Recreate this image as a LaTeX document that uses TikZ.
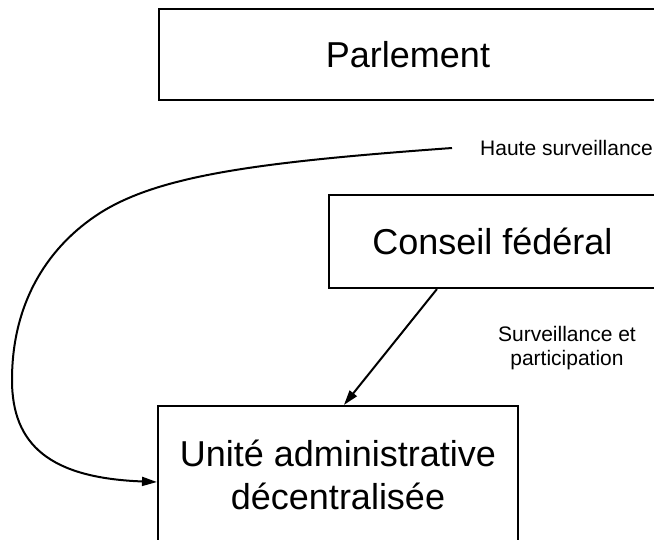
\documentclass[tikz,border=0pt]{standalone}
\usepackage{fontspec}
\setmainfont{Liberation Sans}
\usetikzlibrary{arrows.meta,calc}

\tikzset{
  orgbox/.style={draw=black, line width=2.1pt, rectangle, inner sep=0pt,
    font=\fontsize{36}{43}\selectfont, align=center},
  smalllabel/.style={inner sep=0pt, font=\fontsize{21}{24}\selectfont, align=center},
  link/.style={draw=black, line width=2pt,
    -{Triangle[length=15pt,width=9pt]}}
}

\begin{document}
\begin{tikzpicture}[x=1pt,y=-1pt]
  \useasboundingbox (0,0) rectangle (654,540);
  \clip (0,0) rectangle (654,540);

  % the three bodies
  \node[orgbox, minimum width=498pt, minimum height=91pt] (parl) at (408,54.5) {Parlement};
  \node[orgbox, minimum width=327pt, minimum height=93pt] (cons) at (492.5,241.5) {Conseil fédéral};
  \node[orgbox, minimum width=360pt, minimum height=137pt] (unit) at (338,474.5)
    {Unité administrative\\décentralisée};

  % labels of the two relations
  \node[smalllabel, anchor=west] (hs) at (480,148) {Haute surveillance};
  \node[smalllabel] (sp) at (567,348) {Surveillance et\\participation};

  % high supervision by parliament
  \coordinate (hsStart) at ($(hs.west)+(-28,0)$);
  \draw[link] (hsStart)
    .. controls (260,162) and (160,175) .. (100,213)
    .. controls (50,245) and (12,300) .. (12,380)
    .. controls (12,445) and (50,478) .. ([yshift=-7.5pt]unit.west);

  % supervision by the federal council
  \draw[link] ([xshift=109pt]cons.south west) -- ([xshift=187pt]unit.north west);
\end{tikzpicture}
\end{document}
